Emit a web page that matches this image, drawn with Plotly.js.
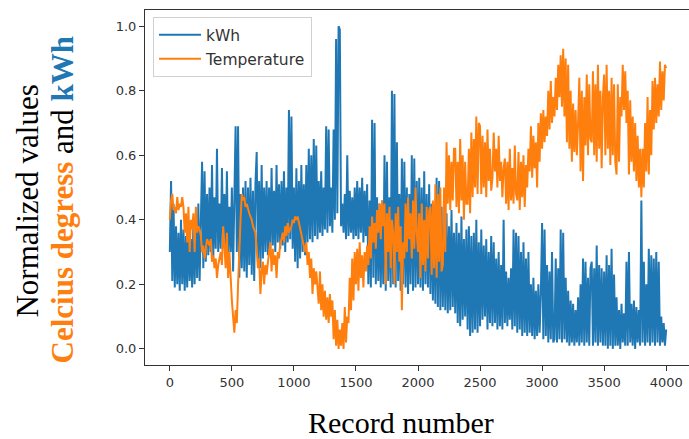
<!DOCTYPE html>
<html>
<head>
<meta charset="utf-8">
<script src="https://cdn.plot.ly/plotly-3.0.1.min.js"></script>
<style>
html,body{margin:0;padding:0;background:#fff;overflow:hidden;}
#chart{width:692px;height:439px;}
</style>
</head>
<body>
<div id="chart"></div>
<script>
// Record numbers are sampled every 10 records (0 .. 4000)
const recordStep = 10;

// Normalized kWh (10 samples per 100 records)
const kwh = [
  0.30, 0.52, 0.21, 0.45, 0.19, 0.38, 0.20, 0.36, 0.18, 0.40,
  0.20, 0.37, 0.18, 0.35, 0.19, 0.38, 0.21, 0.34, 0.19, 0.39,
  0.20, 0.42, 0.22, 0.45, 0.21, 0.40, 0.58, 0.25, 0.55, 0.27,
  0.48, 0.29, 0.50, 0.30, 0.57, 0.28, 0.47, 0.31, 0.62, 0.30,
  0.45, 0.31, 0.56, 0.32, 0.48, 0.30, 0.55, 0.29, 0.44, 0.30,
  0.50, 0.24, 0.52, 0.69, 0.30, 0.69, 0.22, 0.48, 0.25, 0.50,
  0.24, 0.52, 0.22, 0.50, 0.26, 0.53, 0.23, 0.49, 0.21, 0.51,
  0.61, 0.27, 0.52, 0.25, 0.57, 0.28, 0.50, 0.30, 0.52, 0.29,
  0.50, 0.31, 0.56, 0.32, 0.49, 0.30, 0.57, 0.33, 0.51, 0.31,
  0.52, 0.32, 0.55, 0.30, 0.50, 0.33, 0.74, 0.34, 0.72, 0.31,
  0.50, 0.27, 0.56, 0.25, 0.52, 0.28, 0.57, 0.30, 0.51, 0.29,
  0.57, 0.33, 0.62, 0.34, 0.60, 0.33, 0.65, 0.35, 0.63, 0.34,
  0.52, 0.36, 0.55, 0.35, 0.50, 0.37, 0.69, 0.36, 0.68, 0.38,
  0.50, 0.36, 0.68, 0.40, 0.96, 0.42, 1.00, 0.99, 0.38, 0.45,
  0.36, 0.48, 0.34, 0.60, 0.35, 0.49, 0.36, 0.47, 0.34, 0.50,
  0.35, 0.52, 0.34, 0.50, 0.36, 0.53, 0.33, 0.49, 0.35, 0.51,
  0.20, 0.46, 0.19, 0.71, 0.22, 0.70, 0.20, 0.47, 0.21, 0.45,
  0.19, 0.46, 0.20, 0.60, 0.18, 0.58, 0.21, 0.47, 0.19, 0.80,
  0.20, 0.79, 0.19, 0.64, 0.21, 0.48, 0.18, 0.59, 0.20, 0.58,
  0.19, 0.50, 0.17, 0.48, 0.20, 0.60, 0.18, 0.59, 0.19, 0.52,
  0.20, 0.53, 0.19, 0.50, 0.18, 0.55, 0.20, 0.48, 0.19, 0.51,
  0.17, 0.45, 0.15, 0.42, 0.14, 0.53, 0.13, 0.52, 0.12, 0.44,
  0.13, 0.40, 0.12, 0.42, 0.11, 0.38, 0.12, 0.43, 0.13, 0.36,
  0.11, 0.39, 0.08, 0.36, 0.07, 0.41, 0.09, 0.34, 0.10, 0.37,
  0.06, 0.38, 0.04, 0.35, 0.05, 0.36, 0.06, 0.40, 0.05, 0.33,
  0.07, 0.37, 0.09, 0.32, 0.10, 0.34, 0.06, 0.30, 0.08, 0.35,
  0.07, 0.33, 0.08, 0.28, 0.06, 0.30, 0.07, 0.26, 0.06, 0.40,
  0.08, 0.24, 0.07, 0.22, 0.09, 0.25, 0.06, 0.37, 0.07, 0.36,
  0.05, 0.35, 0.06, 0.30, 0.04, 0.33, 0.05, 0.28, 0.04, 0.30,
  0.05, 0.20, 0.04, 0.22, 0.03, 0.18, 0.04, 0.20, 0.05, 0.17,
  0.39, 0.03, 0.37, 0.04, 0.26, 0.02, 0.24, 0.03, 0.30, 0.02,
  0.03, 0.28, 0.02, 0.25, 0.03, 0.37, 0.02, 0.36, 0.03, 0.22,
  0.02, 0.18, 0.01, 0.15, 0.02, 0.14, 0.01, 0.12, 0.02, 0.16,
  0.01, 0.20, 0.02, 0.28, 0.01, 0.27, 0.02, 0.22, 0.01, 0.25,
  0.27, 0.01, 0.25, 0.02, 0.32, 0.01, 0.26, 0.02, 0.25, 0.01,
  0.24, 0.01, 0.29, 0.00, 0.26, 0.01, 0.31, 0.00, 0.23, 0.01,
  0.16, 0.01, 0.12, 0.00, 0.14, 0.02, 0.11, 0.01, 0.27, 0.01,
  0.30, 0.02, 0.14, 0.01, 0.15, 0.00, 0.13, 0.02, 0.12, 0.01,
  0.46, 0.02, 0.27, 0.01, 0.20, 0.02, 0.31, 0.01, 0.29, 0.02,
  0.28, 0.01, 0.30, 0.02, 0.27, 0.01, 0.10, 0.02, 0.08, 0.01,
  0.06
];

// Normalized temperature (10 samples per 100 records)
const temperature = [
  0.40, 0.46, 0.48, 0.43, 0.44, 0.42, 0.47, 0.43, 0.45, 0.44,
  0.47, 0.44, 0.36, 0.42, 0.33, 0.44, 0.30, 0.40, 0.37, 0.42,
  0.30, 0.44, 0.36, 0.38, 0.37, 0.35, 0.30, 0.32, 0.28, 0.31,
  0.34, 0.33, 0.32, 0.34, 0.27, 0.29, 0.25, 0.28, 0.22, 0.26,
  0.28, 0.30, 0.26, 0.38, 0.32, 0.25, 0.36, 0.22, 0.30, 0.20,
  0.15, 0.10, 0.05, 0.12, 0.08, 0.20, 0.33, 0.40, 0.48, 0.46,
  0.47, 0.44, 0.45, 0.43, 0.42, 0.41, 0.40, 0.38, 0.37, 0.36,
  0.31, 0.25, 0.28, 0.17, 0.24, 0.27, 0.20, 0.26, 0.23, 0.28,
  0.30, 0.33, 0.24, 0.31, 0.26, 0.29, 0.22, 0.30, 0.28, 0.33,
  0.34, 0.36, 0.33, 0.38, 0.35, 0.39, 0.36, 0.37, 0.38, 0.40,
  0.39, 0.41, 0.40, 0.41, 0.39, 0.37, 0.35, 0.33, 0.31, 0.30,
  0.33, 0.26, 0.30, 0.22, 0.28, 0.17, 0.25, 0.20, 0.24, 0.18,
  0.14, 0.24, 0.12, 0.20, 0.10, 0.18, 0.09, 0.16, 0.08, 0.17,
  0.10, 0.15, 0.03, 0.12, 0.01, 0.09, 0.00, 0.06, 0.01, 0.08,
  0.00, 0.13, 0.02, 0.10, 0.08, 0.22, 0.12, 0.28, 0.15, 0.30,
  0.20, 0.31, 0.18, 0.33, 0.22, 0.29, 0.19, 0.30, 0.24, 0.32,
  0.26, 0.38, 0.28, 0.41, 0.33, 0.39, 0.31, 0.43, 0.36, 0.45,
  0.34, 0.46, 0.38, 0.45, 0.20, 0.42, 0.30, 0.44, 0.25, 0.40,
  0.36, 0.20, 0.42, 0.30, 0.44, 0.27, 0.38, 0.12, 0.33, 0.28,
  0.45, 0.30, 0.47, 0.34, 0.42, 0.28, 0.46, 0.31, 0.50, 0.36,
  0.30, 0.42, 0.22, 0.45, 0.26, 0.40, 0.24, 0.44, 0.28, 0.43,
  0.44, 0.23, 0.46, 0.25, 0.51, 0.22, 0.48, 0.27, 0.50, 0.24,
  0.26, 0.50, 0.30, 0.64, 0.45, 0.60, 0.43, 0.58, 0.46, 0.62,
  0.62, 0.44, 0.58, 0.42, 0.65, 0.46, 0.60, 0.40, 0.58, 0.45,
  0.45, 0.62, 0.42, 0.67, 0.47, 0.65, 0.50, 0.72, 0.48, 0.70,
  0.69, 0.48, 0.66, 0.50, 0.64, 0.47, 0.68, 0.52, 0.62, 0.49,
  0.53, 0.67, 0.55, 0.62, 0.50, 0.66, 0.52, 0.58, 0.47, 0.56,
  0.59, 0.45, 0.58, 0.43, 0.62, 0.46, 0.56, 0.45, 0.63, 0.48,
  0.46, 0.61, 0.43, 0.58, 0.47, 0.60, 0.44, 0.57, 0.50, 0.62,
  0.55, 0.69, 0.53, 0.66, 0.56, 0.64, 0.50, 0.70, 0.58, 0.73,
  0.62, 0.74, 0.64, 0.72, 0.66, 0.80, 0.68, 0.83, 0.70, 0.78,
  0.72, 0.84, 0.74, 0.88, 0.78, 0.91, 0.75, 0.93, 0.72, 0.90,
  0.64, 0.88, 0.62, 0.80, 0.58, 0.76, 0.61, 0.74, 0.60, 0.70,
  0.84, 0.55, 0.80, 0.52, 0.78, 0.63, 0.85, 0.60, 0.82, 0.65,
  0.64, 0.86, 0.60, 0.82, 0.58, 0.88, 0.62, 0.80, 0.56, 0.78,
  0.85, 0.60, 0.88, 0.62, 0.80, 0.57, 0.84, 0.60, 0.82, 0.58,
  0.54, 0.82, 0.58, 0.78, 0.72, 0.88, 0.74, 0.86, 0.70, 0.80,
  0.54, 0.77, 0.58, 0.72, 0.55, 0.70, 0.52, 0.66, 0.50, 0.62,
  0.47, 0.62, 0.50, 0.70, 0.55, 0.78, 0.54, 0.74, 0.60, 0.83,
  0.68, 0.84, 0.70, 0.82, 0.72, 0.89, 0.74, 0.86, 0.77, 0.88,
  0.87
];

const records = kwh.map((_, i) => i * recordStep);
const xTickVals = [0, 500, 1000, 1500, 2000, 2500, 3000, 3500, 4000];
const yTickVals = [0.0, 0.2, 0.4, 0.6, 0.8, 1.0];
const seriesNames = ['kWh', 'Temperature'];
const xTitle = 'Record number';
const yTitleLine1 = 'Normalized values';
const yTitleOrange = 'Celcius degress';
const yTitleBlue = 'kWh';
const blue = '#1f77b4', orange = '#ff7f0e';

const traces = [
  {x: records, y: kwh, type: 'scatter', mode: 'lines', name: seriesNames[0],
   legendgroup: 'a', line: {color: blue, width: 2}},
  {x: records, y: temperature, type: 'scatter', mode: 'lines', name: seriesNames[1],
   legendgroup: 'b', line: {color: orange, width: 2}}
];

const tickFont = {family: 'DejaVu Sans', size: 13, color: '#333'};
const serif = 'Liberation Serif, Times New Roman, serif';

const layout = {
  width: 692, height: 439,
  margin: {l: 145, r: 1, t: 10, b: 74},
  paper_bgcolor: '#fff', plot_bgcolor: '#fff',
  showlegend: true,
  legend: {
    x: 0.0147, y: 0.98, xanchor: 'left', yanchor: 'top',
    bgcolor: 'rgba(255,255,255,0.8)', bordercolor: '#d0d0d0', borderwidth: 1,
    font: {family: 'DejaVu Sans', size: 15.5, color: '#333'},
    traceorder: 'grouped', tracegroupgap: 1, itemwidth: 42
  },
  xaxis: {
    range: [-200, 4200], tickvals: xTickVals, ticktext: xTickVals.map(String),
    showgrid: false, zeroline: false,
    showline: true, mirror: true, linecolor: '#333', linewidth: 1,
    ticks: 'outside', ticklen: 5, tickcolor: '#333', tickwidth: 1,
    tickfont: tickFont, automargin: false
  },
  yaxis: {
    range: [-0.05, 1.05], tickvals: yTickVals, ticktext: yTickVals.map(v => v.toFixed(1)),
    showgrid: false, zeroline: false,
    showline: true, mirror: true, linecolor: '#333', linewidth: 1,
    ticks: 'outside', ticklen: 5, tickcolor: '#333', tickwidth: 1,
    tickfont: tickFont, automargin: false
  },
  annotations: [
    {text: xTitle, xref: 'paper', yref: 'paper', x: 0.469, y: -0.163,
     xanchor: 'center', yanchor: 'middle', showarrow: false,
     font: {family: serif, size: 30, color: '#000'}},
    {text: yTitleLine1, xref: 'paper', yref: 'paper', x: -0.2151, y: 0.462,
     xanchor: 'center', yanchor: 'middle', showarrow: false, textangle: -90,
     font: {family: serif, size: 31, color: '#000'}},
    {text: '<span style="color:' + orange + '"><b>' + yTitleOrange + '</b></span> and <span style="color:' + blue + '"><b>' + yTitleBlue + '</b></span>',
     xref: 'paper', yref: 'paper', x: -0.151, y: 0.465,
     xanchor: 'center', yanchor: 'middle', showarrow: false, textangle: -90,
     font: {family: serif, size: 31, color: '#000'}}
  ]
};

Plotly.newPlot('chart', traces, layout, {displayModeBar: false, staticPlot: true});
</script>
</body>
</html>
